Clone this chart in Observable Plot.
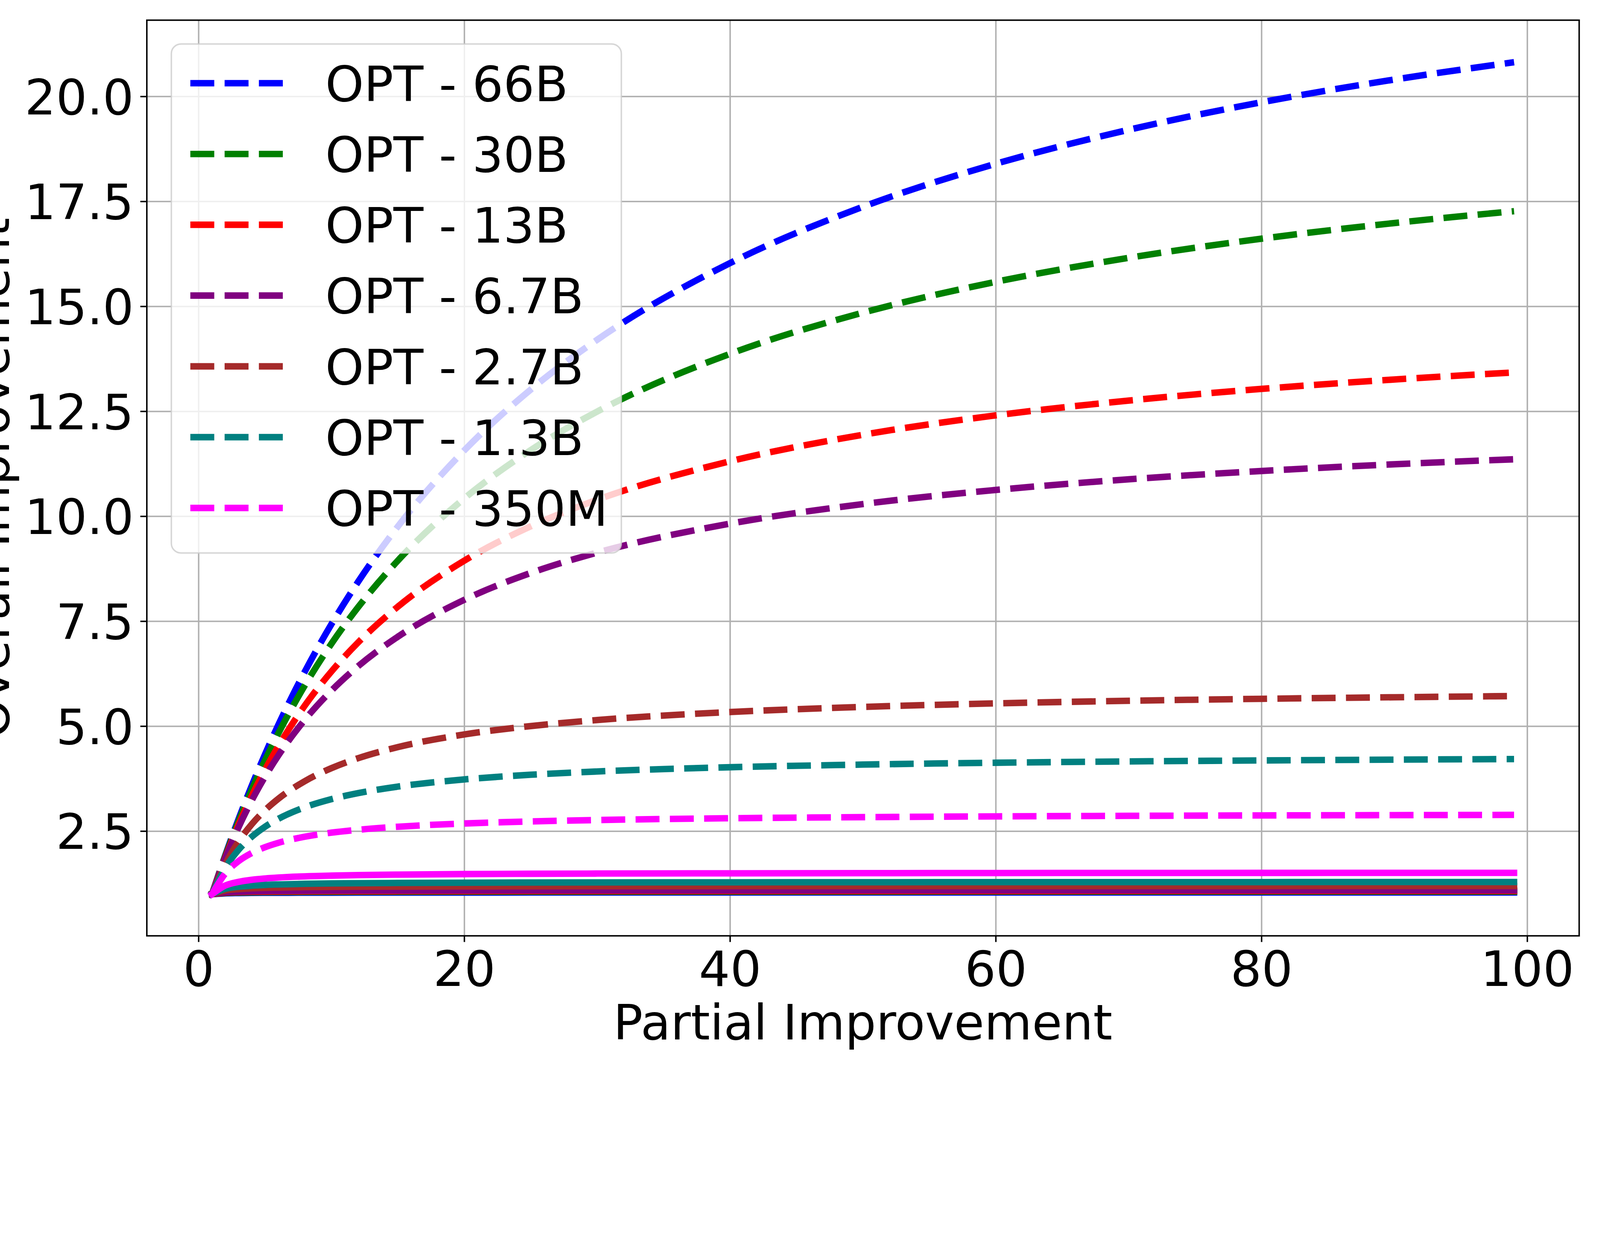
<!DOCTYPE html>
<html>
<head>
<meta charset="utf-8">
<script src="https://cdn.jsdelivr.net/npm/d3@7"></script>
<script src="https://cdn.jsdelivr.net/npm/@observablehq/plot@0.6"></script>
<style>
  html, body { margin: 0; padding: 0; background: #fff; }
  #chart svg { display: block; }
</style>
</head>
<body>
<div id="chart"></div>
<script>
// ---- data ----
const xs = [1, 2, 3, 4, 5, 6, 8, 10, 12, 15, 20, 25, 30, 40, 50, 60, 70, 80, 90, 99];
const models = ["OPT - 66B", "OPT - 30B", "OPT - 13B", "OPT - 6.7B", "OPT - 2.7B", "OPT - 1.3B", "OPT - 350M"];
const colors = ["blue", "green", "red", "purple", "brown", "teal", "magenta"];

// dashed curves
const opt66B_dashed  = [1.000, 1.926, 2.787, 3.588, 4.336, 5.035, 6.308, 7.436, 8.442, 9.763, 11.574, 13.023, 14.209, 16.035, 17.375, 18.400, 19.209, 19.865, 20.406, 20.818];
const opt30B_dashed  = [1.000, 1.908, 2.736, 3.494, 4.191, 4.833, 5.979, 6.971, 7.837, 8.950, 10.430, 11.580, 12.498, 13.873, 14.854, 15.588, 16.159, 16.615, 16.988, 17.270];
const opt13B_dashed  = [1.000, 1.878, 2.655, 3.347, 3.968, 4.528, 5.498, 6.308, 6.996, 7.852, 8.947, 9.764, 10.397, 11.313, 11.945, 12.407, 12.759, 13.037, 13.261, 13.429];
const opt6_7B_dashed = [1.000, 1.854, 2.592, 3.236, 3.803, 4.305, 5.158, 5.853, 6.431, 7.136, 8.014, 8.653, 9.138, 9.828, 10.294, 10.630, 10.884, 11.082, 11.242, 11.360];
const opt2_7B_dashed = [1.000, 1.715, 2.251, 2.668, 3.002, 3.275, 3.695, 4.004, 4.240, 4.505, 4.806, 5.006, 5.149, 5.340, 5.462, 5.546, 5.608, 5.655, 5.692, 5.720];
const opt1_3B_dashed = [1.000, 1.627, 2.057, 2.370, 2.609, 2.796, 3.072, 3.265, 3.408, 3.564, 3.735, 3.846, 3.924, 4.025, 4.088, 4.132, 4.163, 4.187, 4.206, 4.220];
const opt350M_dashed = [1.000, 1.493, 1.787, 1.982, 2.121, 2.225, 2.370, 2.467, 2.535, 2.608, 2.685, 2.734, 2.767, 2.810, 2.836, 2.854, 2.867, 2.877, 2.884, 2.890];

// solid curves
const opt66B_solid  = [1.000, 1.021, 1.028, 1.032, 1.034, 1.035, 1.037, 1.038, 1.039, 1.040, 1.040, 1.041, 1.041, 1.041, 1.042, 1.042, 1.042, 1.042, 1.042, 1.042];
const opt30B_solid  = [1.000, 1.029, 1.040, 1.045, 1.048, 1.050, 1.053, 1.054, 1.055, 1.056, 1.057, 1.058, 1.059, 1.059, 1.059, 1.060, 1.060, 1.060, 1.060, 1.060];
const opt13B_solid  = [1.000, 1.037, 1.050, 1.057, 1.061, 1.063, 1.067, 1.069, 1.070, 1.071, 1.073, 1.074, 1.074, 1.075, 1.075, 1.075, 1.076, 1.076, 1.076, 1.076];
const opt6_7B_solid = [1.000, 1.045, 1.061, 1.069, 1.074, 1.077, 1.081, 1.084, 1.086, 1.087, 1.089, 1.090, 1.091, 1.091, 1.092, 1.092, 1.093, 1.093, 1.093, 1.093];
const opt2_7B_solid = [1.000, 1.090, 1.123, 1.141, 1.152, 1.159, 1.169, 1.174, 1.178, 1.182, 1.186, 1.188, 1.190, 1.192, 1.193, 1.193, 1.194, 1.194, 1.195, 1.195];
const opt1_3B_solid = [1.000, 1.128, 1.178, 1.205, 1.222, 1.233, 1.248, 1.257, 1.263, 1.269, 1.275, 1.279, 1.281, 1.284, 1.286, 1.288, 1.288, 1.289, 1.290, 1.290];
const opt350M_solid = [1.000, 1.206, 1.294, 1.344, 1.375, 1.397, 1.426, 1.443, 1.455, 1.467, 1.480, 1.487, 1.492, 1.498, 1.502, 1.505, 1.507, 1.508, 1.509, 1.510];

// axes
const xTicks = [0, 20, 40, 60, 80, 100];
const yTicks = [2.5, 5.0, 7.5, 10.0, 12.5, 15.0, 17.5, 20.0];
const xLabel = "Partial Improvement";
const yLabel = "Overall Improvement";

const dashedSeries = [opt66B_dashed, opt30B_dashed, opt13B_dashed, opt6_7B_dashed, opt2_7B_dashed, opt1_3B_dashed, opt350M_dashed];
const solidSeries  = [opt66B_solid, opt30B_solid, opt13B_solid, opt6_7B_solid, opt2_7B_solid, opt1_3B_solid, opt350M_solid];

// ---- layout / style ----
const W = 4800, H = 3200;
const ML = 440, MR = 63, MT = 60, MB = 393;
const FS = 147;
const LW = 19.4;
const THIN = 4.4;
const DASH = `${3.7 * LW},${1.6 * LW}`;
const FONT = "DejaVu Sans";

const toRows = vals => xs.map((x, j) => ({x, y: vals[j]}));

const dashedMarks = dashedSeries.map((vals, i) =>
  Plot.line(toRows(vals), {
    x: "x", y: "y", stroke: colors[i], strokeWidth: LW,
    strokeDasharray: DASH, strokeLinecap: "butt", strokeLinejoin: "round",
    curve: "monotone-x"
  })
);
const solidMarks = solidSeries.map((vals, i) =>
  Plot.line(toRows(vals), {
    x: "x", y: "y", stroke: colors[i], strokeWidth: LW,
    strokeLinecap: "square", strokeLinejoin: "round",
    curve: "monotone-x"
  })
);

const svg = Plot.plot({
  width: W, height: H,
  marginLeft: ML, marginRight: MR, marginTop: MT, marginBottom: MB,
  style: {fontFamily: FONT, fontSize: FS + "px", background: "white", color: "black"},
  x: {domain: [-3.9, 103.9]},
  y: {domain: [0.009, 21.82]},
  marks: [
    Plot.gridX(xTicks, {stroke: "#b0b0b0", strokeOpacity: 1, strokeWidth: THIN}),
    Plot.gridY(yTicks, {stroke: "#b0b0b0", strokeOpacity: 1, strokeWidth: THIN}),
    ...dashedMarks,
    ...solidMarks,
    Plot.frame({stroke: "black", strokeWidth: THIN}),
    Plot.axisX(xTicks, {tickSize: 19, tickPadding: 26.6, strokeWidth: THIN, fontSize: FS, label: null, tickFormat: d => String(d)}),
    Plot.axisY(yTicks, {tickSize: 19, strokeWidth: THIN, label: null, tickFormat: () => ""}),
    Plot.axisY(yTicks, {tickSize: 0, tickPadding: 39, dy: 6, fontSize: FS, label: null, tickFormat: d => d.toFixed(1)})
  ]
});

// ---- axis titles ----
const s = d3.select(svg);
s.append("text")
  .attr("x", (ML + W - MR) / 2).attr("y", 3118)
  .attr("text-anchor", "middle")
  .attr("font-family", FONT).attr("font-size", FS).attr("fill", "black")
  .text(xLabel);
s.append("text")
  .attr("transform", `translate(27,${(MT + H - MB) / 2}) rotate(-90)`)
  .attr("text-anchor", "middle")
  .attr("font-family", FONT).attr("font-size", FS).attr("fill", "black")
  .text(yLabel);

// ---- legend (upper left, inside axes) ----
const lg = s.append("g").attr("text-anchor", "start");
lg.append("rect")
  .attr("x", 514).attr("y", 132).attr("width", 1350).attr("height", 1527)
  .attr("rx", 29).attr("ry", 29)
  .attr("fill", "white").attr("fill-opacity", 0.8)
  .attr("stroke", "#cccccc").attr("stroke-opacity", 0.8).attr("stroke-width", THIN);
models.forEach((m, i) => {
  const yy = 249.5 + i * 212.4;
  lg.append("line")
    .attr("x1", 571).attr("x2", 865).attr("y1", yy).attr("y2", yy)
    .attr("stroke", colors[i]).attr("stroke-width", LW)
    .attr("stroke-dasharray", DASH).attr("stroke-linecap", "butt");
  lg.append("text")
    .attr("x", 976).attr("y", yy + 53.5)
    .attr("text-anchor", "start")
    .attr("font-family", FONT).attr("font-size", FS).attr("fill", "black")
    .text(m);
});

document.getElementById("chart").appendChild(svg);
</script>
</body>
</html>
